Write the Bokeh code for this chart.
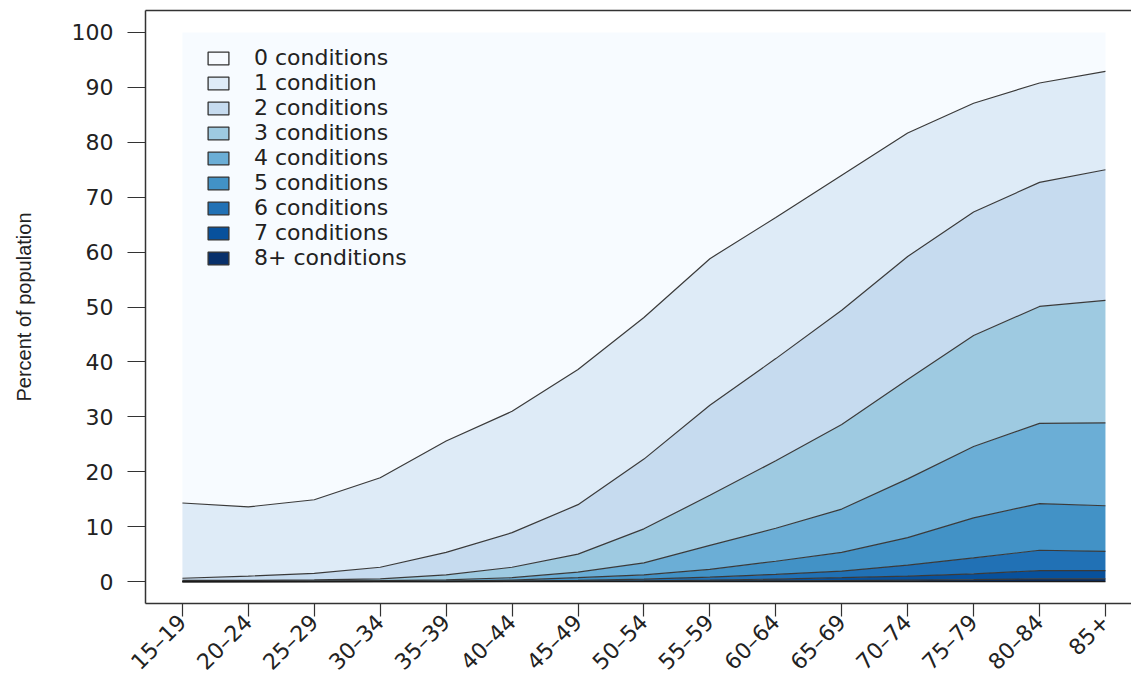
import math
from bokeh.plotting import figure
from bokeh.models import (Range1d, FixedTicker, LinearAxis, Legend, LegendItem,
                          ColumnDataSource)
from bokeh.transform import stack
from bokeh.embed import file_html
from bokeh.resources import INLINE

# ---------------- data ----------------
age_groups = ["15\u201319", "20\u201324", "25\u201329", "30\u201334", "35\u201339",
              "40\u201344", "45\u201349", "50\u201354", "55\u201359", "60\u201364",
              "65\u201369", "70\u201374", "75\u201379", "80\u201384", "85+"]

series_names = ["0 conditions", "1 condition", "2 conditions", "3 conditions",
                "4 conditions", "5 conditions", "6 conditions", "7 conditions",
                "8+ conditions"]

colors = ["#f7fbff", "#deebf7", "#c6dbef", "#9ecae1", "#6baed6",
          "#4292c6", "#2171b5", "#08519c", "#08306b"]

# percent of population in each age group by number of conditions
c0 = [85.7, 86.4, 85.1, 81.1, 74.4, 69.0, 61.4, 51.9, 41.2, 33.7, 26.0, 18.3, 12.9, 9.2, 7.1]
c1 = [13.7, 12.6, 13.4, 16.3, 20.3, 22.1, 24.6, 25.8, 26.7, 25.7, 24.6, 22.5, 19.8, 18.1, 17.9]
c2 = [0.40, 0.80, 1.20, 2.10, 4.10, 6.30, 9.00, 12.7, 16.4, 18.6, 20.8, 22.4, 22.5, 22.6, 23.8]
c3 = [0.15, 0.15, 0.20, 0.35, 0.90, 1.90, 3.30, 6.20, 9.10, 12.3, 15.4, 18.1, 20.2, 21.3, 22.3]
c4 = [0.05, 0.03, 0.07, 0.10, 0.20, 0.45, 1.00, 2.20, 4.40, 6.00, 7.90, 10.7, 13.0, 14.6, 15.1]
c5 = [0.00, 0.02, 0.02, 0.03, 0.07, 0.17, 0.50, 0.75, 1.40, 2.40, 3.40, 5.00, 7.30, 8.50, 8.30]
c6 = [0.00, 0.00, 0.01, 0.01, 0.02, 0.06, 0.15, 0.33, 0.55, 0.85, 1.20, 2.00, 2.90, 3.70, 3.50]
c7 = [0.00, 0.00, 0.00, 0.01, 0.01, 0.01, 0.03, 0.08, 0.18, 0.33, 0.53, 0.75, 1.05, 1.50, 1.50]
c8 = [0.00, 0.00, 0.00, 0.00, 0.00, 0.01, 0.02, 0.04, 0.07, 0.12, 0.17, 0.25, 0.35, 0.50, 0.50]

y_ticks = [0, 10, 20, 30, 40, 50, 60, 70, 80, 90, 100]

# ---------------- figure ----------------
series = [c0, c1, c2, c3, c4, c5, c6, c7, c8]
keys = ["c%d" % i for i in range(len(series))]
xs = list(range(len(age_groups)))
data = {"x": xs, "zero": [0] * len(xs)}
for k, s in zip(keys, series):
    data[k] = s
src = ColumnDataSource(data)

FONT = "DejaVu Sans"
INK = "#222222"
FRAME = "#333333"

p = figure(width=1131, height=686, output_backend="svg", toolbar_location=None,
           x_range=Range1d(-0.56, 14.395), y_range=Range1d(-4, 104),
           min_border_left=145, min_border_right=0, min_border_top=10,
           min_border_bottom=83, x_axis_type=None, y_axis_type=None)
p.outline_line_color = None
p.background_fill_color = "white"
p.border_fill_color = "white"

# stacked areas, bottom = 8+ conditions
stack_keys = keys[::-1]
stack_cols = colors[::-1]
p.varea_stack(stackers=stack_keys, x="x", color=stack_cols, source=src)

# boundary lines between the layers
for i in range(1, len(stack_keys)):
    p.line(x="x", y=stack(*stack_keys[:i]), color="#3a3a3a", line_width=1.2,
           source=src)
p.line(x="x", y="zero", color="#1a1a1a", line_width=1.6, source=src)

# axes
yax = LinearAxis(ticker=FixedTicker(ticks=y_ticks))
yax.axis_label = "Percent of population"
yax.axis_label_text_font = "Liberation Sans"
yax.axis_label_text_font_size = "20px"
yax.axis_label_text_font_style = "normal"
yax.axis_label_text_color = INK
yax.axis_label_standoff = 34
yax.major_label_text_font = FONT
yax.major_label_text_font_size = "22px"
yax.major_label_text_color = INK
yax.major_label_standoff = 14
yax.major_tick_out = 18
yax.major_tick_in = 0
yax.major_tick_line_color = FRAME
yax.major_tick_line_width = 1.2
yax.minor_tick_line_color = None
yax.axis_line_color = FRAME
yax.axis_line_width = 1.5
p.add_layout(yax, "left")

xax = LinearAxis(ticker=FixedTicker(ticks=xs))
xax.major_label_overrides = {i: lab for i, lab in zip(xs, age_groups)}
xax.major_label_orientation = math.pi / 4
xax.major_label_text_font = FONT
xax.major_label_text_font_size = "22px"
xax.major_label_text_color = INK
xax.major_label_standoff = 2
xax.major_tick_out = 13
xax.major_tick_in = 0
xax.major_tick_line_color = FRAME
xax.major_tick_line_width = 1.2
xax.minor_tick_line_color = None
xax.axis_line_color = FRAME
xax.axis_line_width = 1.5
p.add_layout(xax, "below")

top = LinearAxis(ticker=FixedTicker(ticks=[]))
top.major_label_standoff = 0
top.major_tick_out = 0
top.major_tick_in = 0
top.minor_tick_line_color = None
top.axis_line_color = FRAME
top.axis_line_width = 1.5
p.add_layout(top, "above")

# legend (proxy renderers with outlined swatches; their single row is NaN)
nan = float("nan")
items = []
for name, col in zip(series_names, colors):
    r = p.quad(left=[nan], right=[nan], top=[nan], bottom=[nan], fill_color=col,
               line_color="#333333", line_width=1.3)
    items.append(LegendItem(label=name, renderers=[r]))

legend = Legend(items=items, location=(60, 333))
legend.padding = 0
legend.margin = 0
legend.spacing = 0
legend.glyph_width = 26
legend.glyph_height = 16
legend.label_height = 25
legend.label_standoff = 23
legend.label_text_font = FONT
legend.label_text_font_size = "22px"
legend.label_text_color = INK
legend.border_line_color = None
legend.background_fill_alpha = 0
p.add_layout(legend)

open("out.html", "w").write(file_html(p, INLINE))
